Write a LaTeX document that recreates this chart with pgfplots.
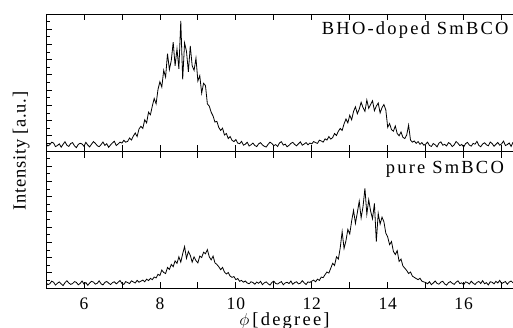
\documentclass[border=0pt]{standalone}
\usepackage{fontspec}
\setmainfont{Liberation Serif}
\newfontfamily\spacedfont[LetterSpace=12]{Liberation Serif}
\newfontfamily\ylabfont[LetterSpace=4]{Liberation Serif}
\newfontfamily\tickfont[LetterSpace=5]{Liberation Serif}
\usepackage{pgfplots}
\pgfplotsset{compat=1.18}
\pgfplotsset{
  panel/.style={
    scale only axis, width=467pt, height=137pt,
    xmin=5, xmax=17.3, ymin=0, ymax=9,
    axis y line*=left,
    xtick={5,6,...,17},
    ytick={0,1,...,9}, minor y tick num=1, yticklabels={},
    major tick length=6.5pt, minor tick length=3.8pt,
    tick align=inside,
    axis line style={line width=0.9pt},
    every tick/.style={black, line width=0.8pt},
    /pgf/number format/assume math mode=true,
  }
}
\begin{document}
\begin{tikzpicture}
\begin{axis}[panel, at={(0pt,0pt)}, anchor=south west,
  xticklabels={,6,,8,,10,,12,,14,,16,},
  xticklabel style={anchor=base, yshift=-21pt, font=\tickfont\fontsize{17.5}{20}\selectfont},
  xlabel={$\phi$\,{\spacedfont [degree]}},
  xlabel style={at={(axis description cs:0.5,0)}, anchor=base, yshift=-37pt, xshift=5pt, font=\fontsize{18.5}{22}\selectfont},
]
% pure SmBCO
\addplot[black, line width=0.8pt] coordinates {
(5.00,0.34)(5.05,0.22)(5.10,0.28)(5.15,0.45)(5.20,0.38)(5.25,0.19)(5.30,0.31)(5.35,0.40)(5.40,0.27)(5.45,0.16)
(5.50,0.35)(5.55,0.48)(5.60,0.33)(5.65,0.24)(5.70,0.29)(5.75,0.42)(5.80,0.37)(5.85,0.21)(5.90,0.30)(5.95,0.46)
(6.00,0.26)(6.05,0.36)(6.10,0.18)(6.15,0.33)(6.20,0.44)(6.25,0.39)(6.30,0.25)(6.35,0.31)(6.40,0.47)(6.45,0.28)
(6.50,0.20)(6.55,0.37)(6.60,0.43)(6.65,0.32)(6.70,0.23)(6.75,0.35)(6.80,0.41)(6.85,0.27)(6.90,0.38)(6.95,0.49)
(7.00,0.30)(7.05,0.24)(7.10,0.42)(7.15,0.36)(7.20,0.29)(7.25,0.47)(7.30,0.40)(7.35,0.33)(7.40,0.50)(7.45,0.38)
(7.50,0.45)(7.55,0.52)(7.60,0.41)(7.65,0.58)(7.70,0.49)(7.75,0.63)(7.80,0.55)(7.85,0.72)(7.90,0.66)(7.95,0.90)
(8.00,0.82)(8.05,1.18)(8.10,1.02)(8.15,0.95)(8.20,1.35)(8.25,1.22)(8.30,1.55)(8.35,1.40)(8.40,1.78)(8.45,1.62)
(8.50,2.05)(8.55,1.70)(8.60,2.25)(8.65,2.72)(8.70,1.95)(8.75,2.40)(8.80,2.15)(8.85,1.70)(8.90,2.05)(8.95,1.80)
(9.00,1.65)(9.05,2.10)(9.10,2.00)(9.15,2.35)(9.20,2.25)(9.25,2.52)(9.30,2.05)(9.35,1.85)(9.40,2.10)(9.45,1.65)
(9.50,1.55)(9.55,1.40)(9.60,1.20)(9.65,1.35)(9.70,1.05)(9.75,0.92)(9.80,1.02)(9.85,0.78)(9.90,0.70)(9.95,0.75)
(10.00,0.55)(10.05,0.62)(10.10,0.44)(10.15,0.50)(10.20,0.38)(10.25,0.46)(10.30,0.33)(10.35,0.28)(10.40,0.41)(10.45,0.36)
(10.50,0.25)(10.55,0.39)(10.60,0.31)(10.65,0.44)(10.70,0.22)(10.75,0.34)(10.80,0.40)(10.85,0.28)(10.90,0.19)(10.95,0.37)
(11.00,0.45)(11.05,0.30)(11.10,0.26)(11.15,0.35)(11.20,0.42)(11.25,0.21)(11.30,0.33)(11.35,0.38)(11.40,0.29)(11.45,0.46)
(11.50,0.24)(11.55,0.36)(11.60,0.41)(11.65,0.27)(11.70,0.32)(11.75,0.48)(11.80,0.34)(11.85,0.23)(11.90,0.40)(11.95,0.37)
(12.00,0.45)(12.05,0.52)(12.10,0.41)(12.15,0.58)(12.20,0.50)(12.25,0.72)(12.30,0.68)(12.35,0.88)(12.40,1.05)(12.45,0.98)
(12.50,1.30)(12.55,1.62)(12.60,1.48)(12.65,2.05)(12.70,1.90)(12.75,2.65)(12.80,3.70)(12.85,2.60)(12.90,3.10)(12.95,3.85)
(13.00,3.55)(13.05,4.40)(13.10,5.10)(13.15,4.25)(13.20,4.95)(13.25,5.70)(13.30,4.60)(13.35,5.35)(13.40,6.55)(13.45,4.85)
(13.50,5.80)(13.55,5.05)(13.60,4.55)(13.65,5.55)(13.70,3.05)(13.75,4.90)(13.80,4.20)(13.85,4.65)(13.90,4.35)(13.95,3.60)
(14.00,3.35)(14.05,2.85)(14.10,3.05)(14.15,2.40)(14.20,2.20)(14.25,2.45)(14.30,1.75)(14.35,1.90)(14.40,1.45)(14.45,1.30)
(14.50,1.15)(14.55,0.95)(14.60,1.05)(14.65,0.78)(14.70,0.70)(14.75,0.62)(14.80,0.55)(14.85,0.64)(14.90,0.45)(14.95,0.40)
(15.00,0.36)(15.05,0.28)(15.10,0.41)(15.15,0.22)(15.20,0.33)(15.25,0.46)(15.30,0.30)(15.35,0.25)(15.40,0.39)(15.45,0.44)
(15.50,0.27)(15.55,0.19)(15.60,0.35)(15.65,0.42)(15.70,0.31)(15.75,0.24)(15.80,0.38)(15.85,0.47)(15.90,0.29)(15.95,0.34)
(16.00,0.21)(16.05,0.40)(16.10,0.36)(16.15,0.26)(16.20,0.45)(16.25,0.32)(16.30,0.23)(16.35,0.37)(16.40,0.43)(16.45,0.30)
(16.50,0.48)(16.55,0.28)(16.60,0.35)(16.65,0.20)(16.70,0.41)(16.75,0.38)(16.80,0.27)(16.85,0.44)(16.90,0.33)(16.95,0.50)
(17.00,0.29)(17.05,0.36)(17.10,0.42)(17.15,0.25)(17.20,0.39)(17.25,0.46)(17.30,0.34)
};
\node[anchor=base east, font=\spacedfont\fontsize{18.5}{22}\selectfont] at (axis description cs:0.988,0.837) {pure SmBCO};
\end{axis}
\begin{axis}[panel, at={(0pt,137pt)}, anchor=south west,
  xticklabels={},
]
% BHO-doped SmBCO
\addplot[black, line width=0.8pt] coordinates {
(5.00,0.48)(5.05,0.33)(5.10,0.41)(5.15,0.58)(5.20,0.52)(5.25,0.29)(5.30,0.36)(5.35,0.47)(5.40,0.25)(5.45,0.44)
(5.50,0.61)(5.55,0.38)(5.60,0.30)(5.65,0.49)(5.70,0.55)(5.75,0.34)(5.80,0.22)(5.85,0.43)(5.90,0.51)(5.95,0.46)
(6.00,0.31)(6.05,0.57)(6.10,0.39)(6.15,0.27)(6.20,0.45)(6.25,0.62)(6.30,0.50)(6.35,0.35)(6.40,0.28)(6.45,0.42)
(6.50,0.59)(6.55,0.37)(6.60,0.48)(6.65,0.24)(6.70,0.40)(6.75,0.53)(6.80,0.64)(6.85,0.36)(6.90,0.46)(6.95,0.58)
(7.00,0.52)(7.05,0.70)(7.10,0.58)(7.15,0.63)(7.20,0.85)(7.25,0.72)(7.30,0.98)(7.35,1.18)(7.40,0.95)(7.45,1.45)
(7.50,1.62)(7.55,1.48)(7.60,2.05)(7.65,1.85)(7.70,2.55)(7.75,2.38)(7.80,2.95)(7.85,3.45)(7.90,3.10)(7.95,4.05)
(8.00,4.55)(8.05,4.20)(8.10,5.30)(8.15,4.85)(8.20,6.40)(8.25,5.35)(8.30,5.95)(8.35,7.15)(8.40,5.60)(8.45,6.70)
(8.50,5.40)(8.55,8.55)(8.60,4.70)(8.65,7.10)(8.70,6.55)(8.75,5.20)(8.80,6.90)(8.85,5.60)(8.90,5.30)(8.95,6.10)
(9.00,4.60)(9.05,4.95)(9.10,3.80)(9.15,4.45)(9.20,4.30)(9.25,3.10)(9.30,2.95)(9.35,2.55)(9.40,2.30)(9.45,1.90)
(9.50,1.95)(9.55,1.55)(9.60,1.35)(9.65,1.50)(9.70,1.05)(9.75,1.15)(9.80,0.82)(9.85,0.95)(9.90,0.70)(9.95,0.62)
(10.00,0.75)(10.05,0.52)(10.10,0.48)(10.15,0.63)(10.20,0.38)(10.25,0.45)(10.30,0.57)(10.35,0.33)(10.40,0.41)(10.45,0.52)
(10.50,0.36)(10.55,0.29)(10.60,0.47)(10.65,0.55)(10.70,0.40)(10.75,0.31)(10.80,0.26)(10.85,0.44)(10.90,0.58)(10.95,0.49)
(11.00,0.35)(11.05,0.42)(11.10,0.30)(11.15,0.53)(11.20,0.61)(11.25,0.39)(11.30,0.45)(11.35,0.28)(11.40,0.37)(11.45,0.50)
(11.50,0.57)(11.55,0.43)(11.60,0.34)(11.65,0.48)(11.70,0.60)(11.75,0.38)(11.80,0.46)(11.85,0.55)(11.90,0.41)(11.95,0.52)
(12.00,0.47)(12.05,0.62)(12.10,0.55)(12.15,0.50)(12.20,0.71)(12.25,0.66)(12.30,0.58)(12.35,0.80)(12.40,0.72)(12.45,0.95)
(12.50,0.78)(12.55,0.88)(12.60,1.15)(12.65,1.02)(12.70,1.30)(12.75,1.48)(12.80,1.35)(12.85,1.78)(12.90,2.10)(12.95,1.85)
(13.00,2.35)(13.05,2.05)(13.10,2.60)(13.15,2.90)(13.20,2.45)(13.25,2.75)(13.30,3.20)(13.35,2.85)(13.40,2.60)(13.45,3.35)
(13.50,2.80)(13.55,3.05)(13.60,3.30)(13.65,2.65)(13.70,2.95)(13.75,3.15)(13.80,2.50)(13.85,2.85)(13.90,3.05)(13.95,2.70)
(14.00,1.55)(14.05,1.80)(14.10,1.40)(14.15,1.30)(14.20,1.65)(14.25,1.15)(14.30,1.00)(14.35,1.25)(14.40,0.90)(14.45,0.82)
(14.50,1.05)(14.55,1.70)(14.60,0.72)(14.65,0.58)(14.70,0.66)(14.75,0.50)(14.80,0.62)(14.85,0.44)(14.90,0.55)(14.95,0.38)
(15.00,0.45)(15.05,0.58)(15.10,0.36)(15.15,0.30)(15.20,0.49)(15.25,0.41)(15.30,0.27)(15.35,0.52)(15.40,0.60)(15.45,0.38)
(15.50,0.44)(15.55,0.33)(15.60,0.55)(15.65,0.47)(15.70,0.29)(15.75,0.40)(15.80,0.62)(15.85,0.51)(15.90,0.35)(15.95,0.43)
(16.00,0.26)(16.05,0.48)(16.10,0.57)(16.15,0.39)(16.20,0.32)(16.25,0.50)(16.30,0.45)(16.35,0.63)(16.40,0.37)(16.45,0.28)
(16.50,0.46)(16.55,0.54)(16.60,0.41)(16.65,0.34)(16.70,0.59)(16.75,0.49)(16.80,0.31)(16.85,0.44)(16.90,0.56)(16.95,0.38)
(17.00,0.47)(17.05,0.65)(17.10,0.36)(17.15,0.42)(17.20,0.53)(17.25,0.30)(17.30,0.58)
};
\node[anchor=base east, font=\spacedfont\fontsize{18.5}{22}\selectfont] at (axis description cs:0.998,0.847) {BHO-doped SmBCO};
\end{axis}
\node[rotate=90, anchor=base, font=\ylabfont\fontsize{18.5}{22}\selectfont] at (-20.3pt,137pt) {Intensity [a.u.]};
\pgfresetboundingbox
\useasboundingbox (-46pt,-39pt) rectangle (467pt,288pt);
\end{tikzpicture}
\end{document}
